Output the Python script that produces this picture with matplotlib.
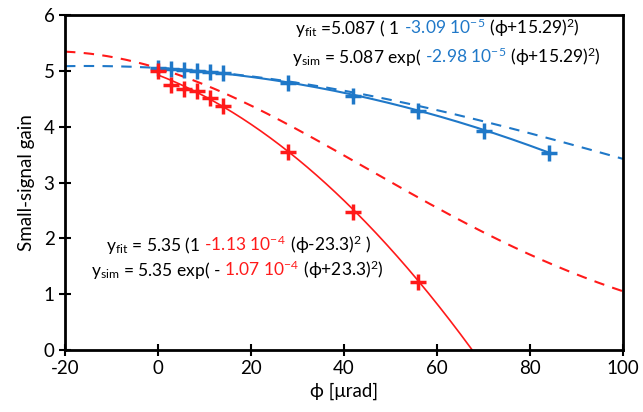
import numpy as np
import matplotlib
matplotlib.use("Agg")
import matplotlib.pyplot as plt
from matplotlib.offsetbox import TextArea, HPacker, AnnotationBbox

plt.rcParams['font.family'] = ['Lato', 'DejaVu Sans']
plt.rcParams['mathtext.fontset'] = 'custom'
plt.rcParams['mathtext.rm'] = 'Lato'
plt.rcParams['mathtext.it'] = 'Lato'
plt.rcParams['mathtext.default'] = 'regular'
plt.rcParams['axes.unicode_minus'] = False

# data
blue_phi = [0, 2.8, 5.6, 8.4, 11.2, 14, 28, 42, 56, 70, 84]
blue_gain = [5.05, 5.04, 5.02, 5.00, 4.98, 4.96, 4.78, 4.55, 4.28, 3.92, 3.53]
red_phi = [0, 2.8, 5.6, 8.4, 11.2, 14, 28, 42, 56]
red_gain = [5.00, 4.75, 4.68, 4.64, 4.52, 4.37, 3.55, 2.47, 1.22]

# fit parameters (a, b, c): a*(1 - b*(phi+c)^2) and a*exp(-b*(phi+c)^2)
blue_fit = (5.087, 3.09e-5, 15.29)
blue_sim = (5.087, 2.98e-5, 15.29)
red_fit = (5.35, 1.13e-4, 26.5)
red_sim = (5.35, 1.07e-4, 23.3)

xticks = [-20, 0, 20, 40, 60, 80, 100]
yticks = [0, 1, 2, 3, 4, 5, 6]

BLUE = '#1f78c8'
RED = '#ff1a1a'

fig = plt.figure(figsize=(6.43, 4.12), dpi=100)
ax = fig.add_axes([65/643, 62/412, 558/643, 335/412])

def quad(p, x):
    a, b, c = p
    return a * (1 - b * (x + c) ** 2)

def gaus(p, x):
    a, b, c = p
    return a * np.exp(-b * (x + c) ** 2)

xd = np.linspace(-20, 100, 400)
ax.plot(xd, gaus(blue_sim, xd), color=BLUE, lw=1.5, ls=(0, (5, 4)))
ax.plot(xd, gaus(red_sim, xd), color=RED, lw=1.5, ls=(0, (5, 4)))
xb = np.linspace(0, max(blue_phi), 200)
ax.plot(xb, quad(blue_fit, xb), color=BLUE, lw=1.5)
xr = np.linspace(0, 75, 300)
ax.plot(xr, quad(red_fit, xr), color=RED, lw=1.2)

ax.plot(blue_phi, blue_gain, ls='none', marker='+', ms=12, mew=2.5, color=BLUE)
ax.plot(red_phi, red_gain, ls='none', marker='+', ms=12, mew=2.5, color=RED)

ax.set_xlim(-20, 100)
ax.set_ylim(0, 6)
ax.set_xticks(xticks)
ax.set_yticks(yticks)
ax.tick_params(direction='inout', length=9, width=1.5, labelsize=13.5, pad=3)
for s in ax.spines.values():
    s.set_linewidth(2)
ax.set_xlabel('ϕ [μrad]', fontsize=13.5, labelpad=4)
ax.set_ylabel('Small-signal gain', fontsize=13.5, labelpad=6)

def eq_line(pieces, xy, fs=12.5):
    areas = [TextArea(t, textprops=dict(color=c, fontsize=fs)) for t, c in pieces]
    box = HPacker(children=areas, align='baseline', pad=0, sep=0)
    ab = AnnotationBbox(box, xy, xycoords='axes fraction', box_alignment=(0, 0.5),
                        frameon=False, pad=0)
    ax.add_artist(ab)

k = 'black'
eq_line([("y${}_{fit}$ =5.087 ( 1", k), (" -3.09 10$^{-5}$", BLUE), (" (ϕ+15.29)$^{2}$)", k)], (0.413, 0.962))
eq_line([("y${}_{sim}$ = 5.087 exp(", k), (" -2.98 10$^{-5}$", BLUE), (" (ϕ+15.29)$^{2}$)", k)], (0.406, 0.875))
eq_line([("y${}_{fit}$ = 5.35 (1", k), (" -1.13 10$^{-4}$", RED), (" (ϕ-23.3)$^{2}$ )", k)], (0.073, 0.313))
eq_line([("y${}_{sim}$ = 5.35 exp( -", k), (" 1.07 10$^{-4}$", RED), (" (ϕ+23.3)$^{2}$)", k)], (0.046, 0.239))

fig.savefig('out.png', dpi=100)
